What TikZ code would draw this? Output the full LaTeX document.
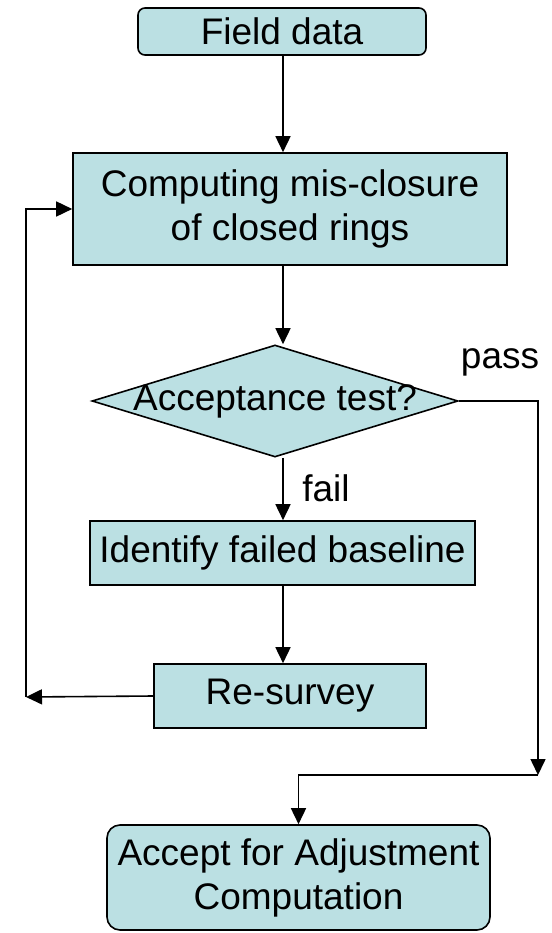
\documentclass[tikz,border=0pt]{standalone}
\usepackage{fontspec}
\setmainfont{Liberation Sans}
\usetikzlibrary{shapes.geometric,arrows.meta}
\definecolor{boxfill}{RGB}{187,224,227}
\begin{document}
\begin{tikzpicture}[x=1pt,y=-1pt,
  font=\fontsize{37}{44}\selectfont,
  box/.style={draw=black,line width=1.6pt,fill=boxfill,inner sep=0pt,align=center},
  rbox/.style={box,rounded corners=7pt},
  arr/.style={line width=1.6pt,-{Triangle[length=16pt,width=15pt]}},
  ln/.style={line width=1.6pt}]
\useasboundingbox (0,0) rectangle (551,933);
\node[rbox,minimum width=288pt,minimum height=47pt] (fd) at (282,31.5) {Field data};
\node[box,minimum width=434pt,minimum height=112pt] (comp) at (290,209) {Computing mis-closure\\of closed rings};
\node[draw=black,line width=1.6pt,fill=boxfill,diamond,minimum width=366pt,minimum height=112pt,inner sep=0pt] (d) at (275,401) {};
\node (dt) at (d.center) {Acceptance test?};
\node[box,minimum width=385pt,minimum height=64pt] (id) at (282.5,553) {Identify failed baseline};
\node[box,minimum width=272pt,minimum height=64pt] (rs) at (290,696) {Re-survey};
\node[rbox,rounded corners=13pt,minimum width=383pt,minimum height=105pt] (acc) at (298.5,877.5) {Accept for Adjustment\\Computation};
\node (pass) at (500,362) {pass};
\node (fail) at (326,488) {fail};
\coordinate (spine) at (283,0);
\coordinate (jn) at (538,775);
\coordinate (lp) at (26,697);
\draw[arr] (spine |- fd.south) -- (spine |- comp.north);
\draw[arr] (spine |- comp.south) -- (spine |- d.north);
\draw[arr] (spine |- d.south) -- (spine |- id.north);
\draw[arr] (spine |- id.south) -- (spine |- rs.north);
\draw[arr] (rs.west) -- (lp);
\draw[arr] (lp) |- (comp.west);
\draw[arr] (d.east) -| (jn);
\draw[arr] (jn) -| (acc.north);
\end{tikzpicture}
\end{document}
